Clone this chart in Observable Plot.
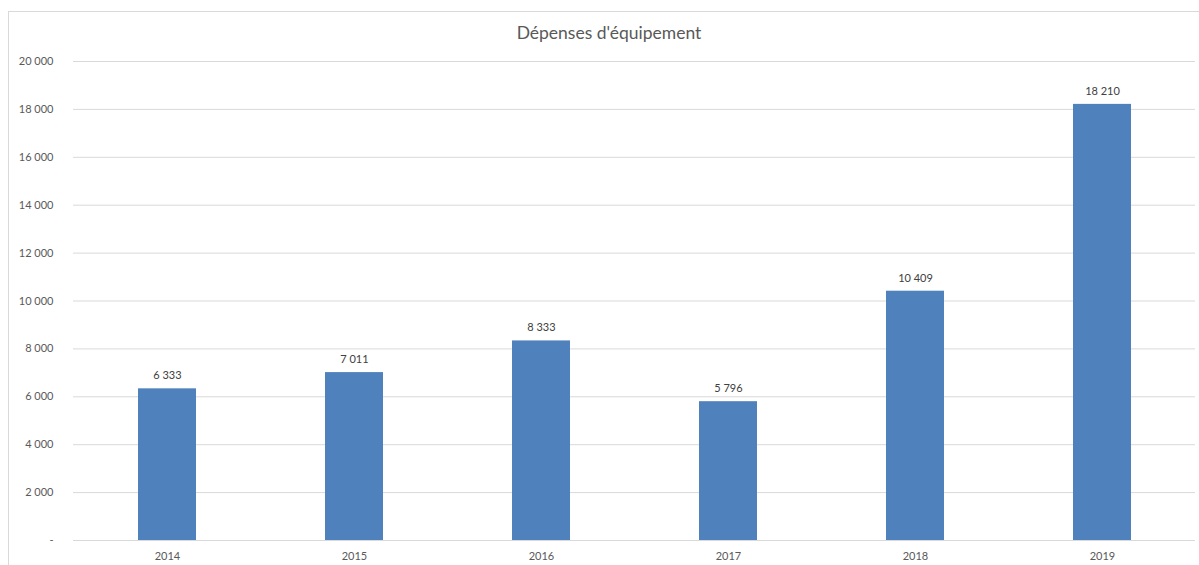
<!DOCTYPE html>
<html>
<head>
<meta charset="utf-8">
<script src="https://cdn.jsdelivr.net/npm/d3@7"></script>
<script src="https://cdn.jsdelivr.net/npm/@observablehq/plot@0.6"></script>
<style>
  html, body { margin: 0; padding: 0; background: #fff; }
  #wrap { position: relative; width: 1199px; height: 565px; overflow: hidden; font-family: Lato, "Open Sans", sans-serif; }
  #frame { position: absolute; left: 8px; top: 11px; width: 1200px; height: 560px; border: 1px solid #d9d9d9; box-sizing: border-box; }
  #title { position: absolute; left: 0; top: 22px; width: 1218px; text-align: center; font-size: 17.5px; color: #595959; }
  #chart { position: absolute; left: 0; top: 0; }
</style>
</head>
<body>
<div id="wrap">
  <div id="frame"></div>
  <div id="chart"></div>
  <div id="title">Dépenses d'équipement</div>
</div>
<script>
const years = ["2014", "2015", "2016", "2017", "2018", "2019"];
const values = [6333, 7011, 8333, 5796, 10409, 18210];
const yTicks = [0, 2000, 4000, 6000, 8000, 10000, 12000, 14000, 16000, 18000, 20000];

const data = years.map((y, i) => ({year: y, value: values[i]}));
const fmt = v => v === 0 ? "-" : d3.format(",")(v).replace(/,/g, "\u202f");

const chart = Plot.plot({
  width: 1199,
  height: 565,
  marginLeft: 73,
  marginRight: 4,
  marginTop: 61,
  marginBottom: 25,
  style: {fontFamily: "Lato, 'Open Sans', sans-serif", fontSize: "11px", color: "#595959", background: "transparent"},
  x: {domain: years, paddingInner: 0.69, paddingOuter: 0.345, label: null, tickSize: 0, tickPadding: 12},
  y: {domain: [0, 20000], ticks: yTicks, label: null, tickFormat: fmt, tickSize: 0, tickPadding: 20},
  marks: [
    Plot.gridY(yTicks, {stroke: "#d9d9d9", strokeOpacity: 1}),
    Plot.barY(data, {x: "year", y: "value", fill: "#4f81bd"}),
    Plot.text(data, {x: "year", y: "value", text: d => fmt(d.value), dy: -13, fill: "#404040", fontSize: 11}),
    Plot.axisX({tickSize: 0, tickPadding: 12, label: null, color: "#595959"}),
    Plot.axisY(yTicks, {tickSize: 0, tickPadding: 20, tickFormat: fmt, label: null, color: "#595959"})
  ]
});
document.getElementById("chart").appendChild(chart);
</script>
</body>
</html>
